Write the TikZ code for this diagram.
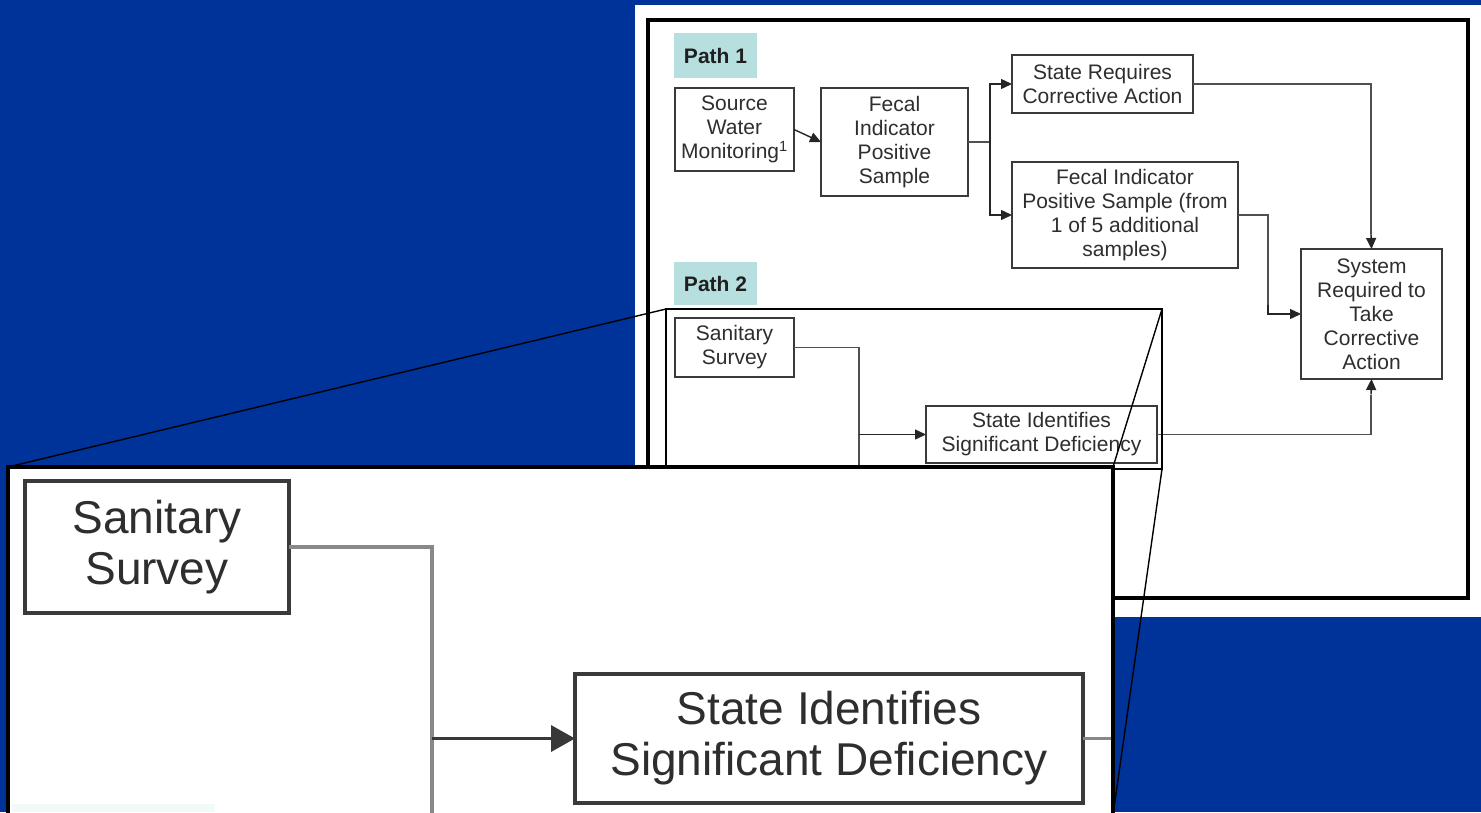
\documentclass[tikz,border=0pt]{standalone}
\usepackage{fontspec}
\setmainfont{Liberation Sans}
\usetikzlibrary{arrows.meta}
\definecolor{bgblue}{HTML}{003399}
\definecolor{pathteal}{HTML}{B7DFE0}
\definecolor{txt}{HTML}{2E2E2E}
\definecolor{boxline}{HTML}{3A3A3A}
\definecolor{connline}{HTML}{505050}
\definecolor{iconn}{HTML}{888888}
\definecolor{faintteal}{HTML}{F2FAF9}
\begin{document}
\begin{tikzpicture}[x=1pt,y=-1pt,
  box/.style={draw=boxline, line width=1.4pt, fill=white, rectangle, inner sep=0pt, outer sep=0pt,
    align=center, text=txt, font=\fontsize{21pt}{24pt}\selectfont},
  pathlabel/.style={fill=pathteal, inner sep=0pt, outer sep=0pt, minimum width=83pt,
    font=\bfseries\fontsize{21pt}{24pt}\selectfont, text=black!88},
  conn/.style={draw=connline, line width=1.4pt},
  arr/.style={draw=black!85, line width=1.4pt, -{Triangle[length=11pt,width=10pt]}},
  ibox/.style={draw=boxline, line width=3.5pt, fill=white, rectangle, inner sep=0pt, outer sep=0pt,
    align=center, text=txt, font=\fontsize{46pt}{51pt}\selectfont},
  iconnst/.style={draw=iconn, line width=3.5pt},
  iarr/.style={draw=black!78, line width=3.5pt, -{Triangle[length=24pt,width=26pt]}},
  zoomline/.style={draw=black, line width=1.4pt}
]
\useasboundingbox (0,0) rectangle (1481,812);
% background
\fill[bgblue] (0,0) rectangle (1481,812);
\fill[white] (635,5) rectangle (1481,617);
\draw[line width=4pt] (648,20) rectangle (1468,598);

% path labels
\node[pathlabel, minimum height=45pt] (p1) at (715.5,55.5) {Path 1};
\node[pathlabel, minimum height=43pt] (p2) at (715.5,283.5) {Path 2};

% path 1 nodes
\node[box, minimum width=119pt, minimum height=83pt] (src) at (734.5,129.5) {Source\\Water\\Monitoring\textsuperscript{1}};
\node[box, minimum width=147pt, minimum height=108pt] (fec) at (894.5,142) {Fecal\\Indicator\\Positive\\Sample};
\node[box, minimum width=181pt, minimum height=58pt] (req) at (1102.5,84) {State Requires\\Corrective Action};
\node[box, minimum width=226pt, minimum height=106pt] (fec2) at (1125,215) {Fecal Indicator\\Positive Sample (from\\1 of 5 additional\\samples)};
\node[box, minimum width=141pt, minimum height=130pt] (sys) at (1371.5,314) {System\\Required to\\Take\\Corrective\\Action};

% path 2 nodes
\node[box, minimum width=119pt, minimum height=59pt] (san) at (734.5,347.5) {Sanitary\\Survey};
\node[box, minimum width=231pt, minimum height=57pt] (sid) at (1041.5,434.5) {State Identifies\\Significant Deficiency};

% connectors path 1
\draw[arr] (src.east) -- (fec.west);
\draw[conn] (fec.east) -- ++(22,0) coordinate (br);
\draw[arr] (br) |- (req.west);
\draw[arr] (br) |- (fec2.west);
\draw[conn] (req.east) -| ++(178,150) coordinate (reqd);
\draw[arr] (reqd) -- (sys.north);
\draw[conn] (fec2.east) -- ++(30,0) coordinate (f2j) |- ++(0,90) coordinate (f2k);
\draw[arr] (f2k) |- (sys.west);
\draw[conn] (sid.east) -| ++(214,-40) coordinate (sidu);
\draw[arr] (sidu) -- (sys.south);

% connectors path 2
\draw[conn] (san.east) -- ++(65,0) coordinate (sj) -- ++(0,140);
\draw[arr] (sj |- sid.west) -- (sid.west);

% zoom source rectangle
\node[draw=black, line width=1.4pt, inner sep=0pt, outer sep=0pt, minimum width=496pt, minimum height=160pt] (zsrc) at (914,389) {};

% inset
\node[fill=white, inner sep=0pt, outer sep=0pt, minimum width=1105pt, minimum height=348pt] (zdst) at (560.5,641) {};
\fill[faintteal] (12,804) rectangle (215,812);
\node[ibox, minimum width=264pt, minimum height=132pt] (isan) at (157,547) {Sanitary\\Survey};
\node[ibox, minimum width=508pt, minimum height=129pt] (isid) at (829,738.5) {State Identifies\\Significant Deficiency};
\coordinate (iedge) at (1113,738.5);
\draw[iconnst] (isan.east) -- ++(143,0) coordinate (ij) -- ++(0,300);
\draw[iarr] (ij |- isid.west) -- (isid.west);
\draw[iconnst] (isid.east) -- (iedge);
\draw[line width=4pt] (zdst.south west) -- (zdst.north west) -- (zdst.north east) -- (zdst.south east);

% zoom lines
\draw[zoomline] (zsrc.north west) -- (zdst.north west);
\draw[zoomline] (zsrc.north east) -- (zdst.north east);
\draw[zoomline] (zsrc.south east) -- (zdst.south east);
\end{tikzpicture}
\end{document}
